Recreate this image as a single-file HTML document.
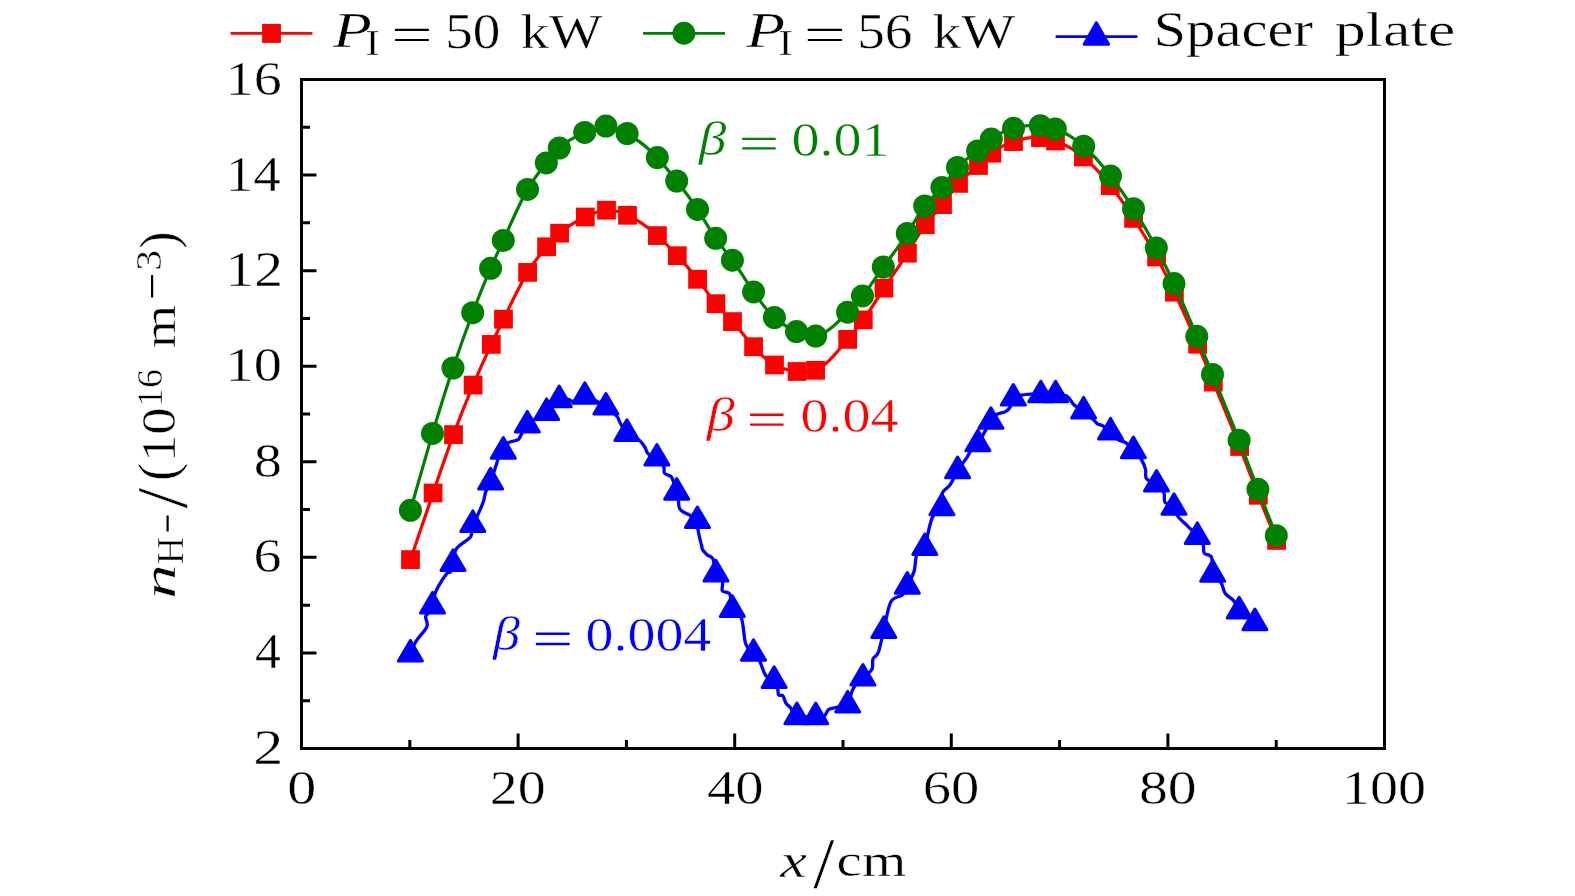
<!DOCTYPE html><html><head><meta charset="utf-8"><style>html,body{margin:0;padding:0;background:#fff;}svg{display:block;will-change:transform;}text{font-family:"Liberation Serif",serif;}</style></head><body>
<svg width="1575" height="896" viewBox="0 0 1575 896">
<rect width="1575" height="896" fill="#fff"/>
<path d="M409.8,748.5 V740 M518.1,748.5 V733.5 M626.4,748.5 V740 M734.7,748.5 V733.5 M843,748.5 V740 M951.3,748.5 V733.5 M1059.6,748.5 V740 M1167.9,748.5 V733.5 M1276.2,748.5 V740 M301.5,700.714 H310 M301.5,652.929 H316.5 M301.5,605.143 H310 M301.5,557.357 H316.5 M301.5,509.571 H310 M301.5,461.786 H316.5 M301.5,414 H310 M301.5,366.214 H316.5 M301.5,318.429 H310 M301.5,270.643 H316.5 M301.5,222.857 H310 M301.5,175.071 H316.5 M301.5,127.286 H310" stroke="#000" stroke-width="3.0" fill="none"/>
<rect x="301.5" y="79.5" width="1083" height="669" fill="none" stroke="#000" stroke-width="3.0"/>
<text transform="matrix(0.581,0,0,0.493,287.171,803.557)" font-size="100" fill="#000000" stroke="#fff" stroke-width="0.5" vector-effect="non-scaling-stroke">0</text>
<text transform="matrix(0.559,0,0,0.493,489.734,803.557)" font-size="100" fill="#000000" stroke="#fff" stroke-width="0.5" vector-effect="non-scaling-stroke">20</text>
<text transform="matrix(0.566,0,0,0.493,706.919,803.557)" font-size="100" fill="#000000" stroke="#fff" stroke-width="0.5" vector-effect="non-scaling-stroke">40</text>
<text transform="matrix(0.566,0,0,0.493,922.743,803.557)" font-size="100" fill="#000000" stroke="#fff" stroke-width="0.5" vector-effect="non-scaling-stroke">60</text>
<text transform="matrix(0.577,0,0,0.493,1138.885,803.557)" font-size="100" fill="#000000" stroke="#fff" stroke-width="0.5" vector-effect="non-scaling-stroke">80</text>
<text transform="matrix(0.561,0,0,0.493,1342.037,803.557)" font-size="100" fill="#000000" stroke="#fff" stroke-width="0.5" vector-effect="non-scaling-stroke">100</text>
<text transform="matrix(0.6,0,0,0.501,253.25,764.05)" font-size="100" fill="#000000" stroke="#fff" stroke-width="0.5" vector-effect="non-scaling-stroke">2</text>
<text transform="matrix(0.516,0,0,0.505,254.918,668.479)" font-size="100" fill="#000000" stroke="#fff" stroke-width="0.5" vector-effect="non-scaling-stroke">4</text>
<text transform="matrix(0.561,0,0,0.494,253.564,572.413)" font-size="100" fill="#000000" stroke="#fff" stroke-width="0.5" vector-effect="non-scaling-stroke">6</text>
<text transform="matrix(0.565,0,0,0.492,253.832,476.844)" font-size="100" fill="#000000" stroke="#fff" stroke-width="0.5" vector-effect="non-scaling-stroke">8</text>
<text transform="matrix(0.565,0,0,0.492,225.61,381.272)" font-size="100" fill="#000000" stroke="#fff" stroke-width="0.5" vector-effect="non-scaling-stroke">10</text>
<text transform="matrix(0.576,0,0,0.501,225.509,286.193)" font-size="100" fill="#000000" stroke="#fff" stroke-width="0.5" vector-effect="non-scaling-stroke">12</text>
<text transform="matrix(0.55,0,0,0.503,225.734,190.621)" font-size="100" fill="#000000" stroke="#fff" stroke-width="0.5" vector-effect="non-scaling-stroke">14</text>
<text transform="matrix(0.56,0,0,0.494,225.652,94.556)" font-size="100" fill="#000000" stroke="#fff" stroke-width="0.5" vector-effect="non-scaling-stroke">16</text>
<text transform="matrix(0.636,0,0,0.515,333.068,47.45)" font-size="100" font-style="italic" fill="#000000" stroke="#fff" stroke-width="0.5" vector-effect="non-scaling-stroke">P</text>
<text transform="matrix(0.442,0,0,0.365,365.203,55.15)" font-size="100" fill="#000000" stroke="#fff" stroke-width="0.5" vector-effect="non-scaling-stroke">I</text>
<text transform="matrix(0.552,0,0,0.498,445.173,48.052)" font-size="100" fill="#000000" stroke="#fff" stroke-width="0.5" vector-effect="non-scaling-stroke">50</text>
<text transform="matrix(0.566,0,0,0.49,520.818,47.815)" font-size="100" fill="#000000" stroke="#fff" stroke-width="0.5" vector-effect="non-scaling-stroke">kW</text>
<text transform="matrix(0.636,0,0,0.515,746.368,47.45)" font-size="100" font-style="italic" fill="#000000" stroke="#fff" stroke-width="0.5" vector-effect="non-scaling-stroke">P</text>
<text transform="matrix(0.442,0,0,0.365,778.303,55.15)" font-size="100" fill="#000000" stroke="#fff" stroke-width="0.5" vector-effect="non-scaling-stroke">I</text>
<text transform="matrix(0.553,0,0,0.5,857.168,48.05)" font-size="100" fill="#000000" stroke="#fff" stroke-width="0.5" vector-effect="non-scaling-stroke">56</text>
<text transform="matrix(0.572,0,0,0.49,932.607,47.815)" font-size="100" fill="#000000" stroke="#fff" stroke-width="0.5" vector-effect="non-scaling-stroke">kW</text>
<text transform="matrix(0.587,0,0,0.505,1153.389,45.816)" font-size="100" fill="#000000" stroke="#fff" stroke-width="0.5" vector-effect="non-scaling-stroke">Spacer</text>
<text transform="matrix(0.62,0,0,0.476,1334.719,46.434)" font-size="100" fill="#000000" stroke="#fff" stroke-width="0.5" vector-effect="non-scaling-stroke">plate</text>
<text transform="matrix(0.554,0,0,0.477,698.781,155.006)" font-size="100" font-style="italic" fill="#008000" stroke="#fff" stroke-width="0.5" vector-effect="non-scaling-stroke">β</text>
<text transform="matrix(0.561,0,0,0.491,791.446,156.113)" font-size="100" fill="#008000" stroke="#fff" stroke-width="0.5" vector-effect="non-scaling-stroke">0.01</text>
<text transform="matrix(0.562,0,0,0.475,706.693,431.152)" font-size="100" font-style="italic" fill="#ff0000" stroke="#fff" stroke-width="0.5" vector-effect="non-scaling-stroke">β</text>
<text transform="matrix(0.56,0,0,0.488,800.449,432.218)" font-size="100" fill="#ff0000" stroke="#fff" stroke-width="0.5" vector-effect="non-scaling-stroke">0.04</text>
<text transform="matrix(0.542,0,0,0.477,492.964,650.106)" font-size="100" font-style="italic" fill="#0000ff" stroke="#fff" stroke-width="0.5" vector-effect="non-scaling-stroke">β</text>
<text transform="matrix(0.559,0,0,0.487,585.554,651.12)" font-size="100" fill="#0000ff" stroke="#fff" stroke-width="0.5" vector-effect="non-scaling-stroke">0.004</text>
<text transform="matrix(0.598,0,0,0.487,780.297,876.65)" font-size="100" font-style="italic" fill="#000000" stroke="#fff" stroke-width="0.5" vector-effect="non-scaling-stroke">x</text>
<text transform="matrix(0.76,0,0,0.721,813.15,887.129)" font-size="100" fill="#000000" stroke="#fff" stroke-width="0.5" vector-effect="non-scaling-stroke">/</text>
<text transform="matrix(0.57,0,0,0.467,836.614,876.183)" font-size="100" fill="#000000" stroke="#fff" stroke-width="0.5" vector-effect="non-scaling-stroke">cm</text>
<text transform="matrix(0,-0.701,0.457,0,175.25,598.902)" font-size="100" font-style="italic" fill="#000000" stroke="#fff" stroke-width="0.5" vector-effect="non-scaling-stroke">n</text>
<text transform="matrix(0,-0.38,0.374,0,183.25,564.191)" font-size="100" fill="#000000" stroke="#fff" stroke-width="0.5" vector-effect="non-scaling-stroke">H</text>
<text transform="matrix(0,-0.75,0.718,0,186.132,508.55)" font-size="100" fill="#000000" stroke="#fff" stroke-width="0.5" vector-effect="non-scaling-stroke">/</text>
<text transform="matrix(0,-0.545,0.548,0,175.704,481.103)" font-size="100" fill="#000000" stroke="#fff" stroke-width="0.5" vector-effect="non-scaling-stroke">(</text>
<text transform="matrix(0,-0.547,0.483,0,175.267,462.04)" font-size="100" fill="#000000" stroke="#fff" stroke-width="0.5" vector-effect="non-scaling-stroke">10</text>
<text transform="matrix(0,-0.38,0.366,0,161.984,406.972)" font-size="100" fill="#000000" stroke="#fff" stroke-width="0.5" vector-effect="non-scaling-stroke">16</text>
<text transform="matrix(0,-0.559,0.457,0,175.25,348.368)" font-size="100" fill="#000000" stroke="#fff" stroke-width="0.5" vector-effect="non-scaling-stroke">m</text>
<text transform="matrix(0,-0.417,0.352,0,161.098,270.831)" font-size="100" fill="#000000" stroke="#fff" stroke-width="0.5" vector-effect="non-scaling-stroke">3</text>
<text transform="matrix(0,-0.517,0.531,0,175.556,248.729)" font-size="100" fill="#000000" stroke="#fff" stroke-width="0.5" vector-effect="non-scaling-stroke">)</text>
<rect x="395" y="28.7" width="33.9" height="2.4" rx="0.6" fill="#000000"/>
<rect x="395" y="38.9" width="33.9" height="2.2" rx="0.6" fill="#000000"/>
<rect x="807.8" y="28.7" width="34.2" height="2.4" rx="0.6" fill="#000000"/>
<rect x="807.8" y="38.9" width="34.2" height="2.2" rx="0.6" fill="#000000"/>
<rect x="742.2" y="137.7" width="33.5" height="2.4" rx="0.6" fill="#008000"/>
<rect x="742.2" y="147.2" width="33.5" height="2.4" rx="0.6" fill="#008000"/>
<rect x="750" y="413.5" width="33.6" height="2.4" rx="0.6" fill="#ff0000"/>
<rect x="750" y="423.4" width="33.6" height="2.4" rx="0.6" fill="#ff0000"/>
<rect x="535.9" y="632.5" width="33.8" height="2.4" rx="0.6" fill="#0000ff"/>
<rect x="535.9" y="642.8" width="33.8" height="2.4" rx="0.6" fill="#0000ff"/>
<rect x="166.5" y="515.6" width="2.2" height="16" rx="0.6" fill="#000000"/>
<rect x="151" y="275.1" width="2.2" height="22.5" rx="0.6" fill="#000000"/>
<path d="M410.4,653.7 C411.3,651.683 413.067,646.067 415.8,641.6 C418.533,637.133 425.167,631 426.8,626.9 C428.433,622.8 425.4,619.25 425.6,617 C425.8,614.75 426.85,615.283 428,613.4 C429.15,611.517 431.267,609.183 432.5,605.7 C433.733,602.217 433.083,597.767 435.4,592.5 C437.717,587.233 443.833,577.567 446.4,574.1 C448.967,570.633 449.7,573.517 450.8,571.7 C451.9,569.883 452.083,567 453,563.2 C453.917,559.4 453.8,552.883 456.3,548.9 C458.8,544.917 465.517,541.517 468,539.3 C470.483,537.083 470.4,538.117 471.2,535.6 C472,533.083 471.817,527.4 472.8,524.2 C473.783,521 475.35,520.15 477.1,516.4 C478.85,512.65 481.867,505.783 483.3,501.7 C484.733,497.617 484.483,495.25 485.7,491.9 C486.917,488.55 488.917,485.875 490.6,481.6 C492.283,477.325 494.683,469.583 495.8,466.25 C496.917,462.917 496.917,462.775 497.3,461.6 C497.683,460.425 497.1,460.983 498.1,459.2 C499.1,457.417 501.733,453.558 503.3,450.9 C504.867,448.242 505.15,445.083 507.5,443.25 C509.85,441.417 515.317,440.942 517.4,439.9 C519.483,438.858 518.35,439.533 520,437 C521.65,434.467 522.867,428.833 527.3,424.7 C531.733,420.567 541.283,416.417 546.6,412.2 C551.917,407.983 555.567,401.517 559.2,399.4 C562.833,397.283 565.95,399.167 568.4,399.5 C570.85,399.833 571.167,401.983 573.9,401.4 C576.633,400.817 579.467,395.108 584.8,396 C590.133,396.892 600.55,403.375 605.9,406.75 C611.25,410.125 614.55,413.625 616.9,416.25 C619.25,418.875 618.333,419.692 620,422.5 C621.667,425.308 623.65,430.1 626.9,433.1 C630.15,436.1 636.483,438.1 639.5,440.5 C642.517,442.9 643.567,445.292 645,447.5 C646.433,449.708 646.117,452.033 648.1,453.75 C650.083,455.467 654.317,455.692 656.9,457.8 C659.483,459.908 662.35,463.867 663.6,466.4 C664.85,468.933 663.5,471.483 664.4,473 C665.3,474.517 667.733,474.667 669,475.5 C670.267,476.333 670.717,475.267 672,478 C673.283,480.733 675.633,488.1 676.7,491.9 C677.767,495.7 677.983,498.2 678.4,500.8 C678.817,503.4 678.55,505.733 679.2,507.5 C679.85,509.267 680.467,510.1 682.3,511.4 C684.133,512.7 687.683,513.817 690.2,515.3 C692.717,516.783 696.1,517.95 697.4,520.3 C698.7,522.65 697.65,526.583 698,529.4 C698.35,532.217 698.917,534.6 699.5,537.2 C700.083,539.8 700.983,542.917 701.5,545 C702.017,547.083 701.633,548.033 702.6,549.7 C703.567,551.367 705.567,553.45 707.3,555 C709.033,556.55 711.558,555.9 713,559 C714.442,562.1 714.383,569.8 715.95,573.6 C717.517,577.4 721.325,578.917 722.4,581.8 C723.475,584.683 721.167,588.85 722.4,590.9 C723.633,592.95 728.15,591.067 729.8,594.1 C731.45,597.133 730.35,605.033 732.3,609.1 C734.25,613.167 739.267,612.7 741.5,618.5 C743.733,624.3 743.7,638.15 745.7,643.9 C747.7,649.65 751.2,650.167 753.5,653 C755.8,655.833 757.433,657.117 759.5,660.9 C761.567,664.683 763.467,672.5 765.9,675.7 C768.333,678.9 772.15,677.967 774.1,680.1 C776.05,682.233 776.85,686.05 777.6,688.5 C778.35,690.95 777.717,693.567 778.6,694.8 C779.483,696.033 781.667,694.483 782.9,695.9 C784.133,697.317 784.767,701.367 786,703.3 C787.233,705.233 788.483,705.317 790.3,707.5 C792.117,709.683 792.667,714.917 796.9,716.4 C801.133,717.883 811.15,716.467 815.7,716.4 C820.25,716.333 822.067,717.117 824.2,716 C826.333,714.883 826.55,711.117 828.5,709.7 C830.45,708.283 832.7,708.333 835.9,707.5 C839.1,706.667 845.05,707.35 847.7,704.7 C850.35,702.05 850.417,695.017 851.8,691.6 C853.183,688.183 854.15,686.5 856,684.2 C857.85,681.9 860.25,680.267 862.9,677.8 C865.55,675.333 870.217,672.567 871.9,669.4 C873.583,666.233 871.933,661.633 873,658.8 C874.067,655.967 876.5,657.167 878.3,652.4 C880.1,647.633 881.717,638.6 883.8,630.2 C885.883,621.8 887.7,607.9 890.8,602 C893.9,596.1 899.65,597.483 902.4,594.8 C905.15,592.117 905.367,589.767 907.3,585.9 C909.233,582.033 912.4,576.883 914,571.6 C915.6,566.317 915.1,558.25 916.9,554.2 C918.7,550.15 922.867,551.167 924.8,547.3 C926.733,543.433 927.15,536.15 928.5,531 C929.85,525.85 930.667,520.333 932.9,516.4 C935.133,512.467 940.35,511.267 941.9,507.4 C943.45,503.533 940.8,497.017 942.2,493.2 C943.6,489.383 947.733,488.3 950.3,484.5 C952.867,480.7 954.933,474.75 957.6,470.4 C960.267,466.05 964.133,461.617 966.3,458.4 C968.467,455.183 968.667,453.583 970.6,451.1 C972.533,448.617 974.517,448.517 977.9,443.5 C981.283,438.483 987.833,425.8 990.9,421 C993.967,416.2 993.85,416.267 996.3,414.7 C998.75,413.133 1003.267,412.9 1005.6,411.6 C1007.933,410.3 1009.017,409.2 1010.3,406.9 C1011.583,404.6 1011.467,399.75 1013.3,397.8 C1015.133,395.85 1018.417,395.817 1021.3,395.2 C1024.183,394.583 1027.35,394.217 1030.6,394.1 C1033.85,393.983 1036.633,394.433 1040.8,394.5 C1044.967,394.567 1051.3,394.267 1055.6,394.5 C1059.9,394.733 1063.467,394.1 1066.6,395.9 C1069.733,397.7 1071.567,402.833 1074.4,405.3 C1077.233,407.767 1080.483,408.35 1083.6,410.7 C1086.717,413.05 1090.733,417.167 1093.1,419.4 C1095.467,421.633 1096.233,423.067 1097.8,424.1 C1099.367,425.133 1100.383,424.333 1102.5,425.6 C1104.617,426.867 1107.9,429.35 1110.5,431.7 C1113.1,434.05 1115.517,437.85 1118.1,439.7 C1120.683,441.55 1123.45,441.017 1126,442.8 C1128.55,444.583 1130.8,447.533 1133.4,450.4 C1136,453.267 1139.583,456.833 1141.6,460 C1143.617,463.167 1144.683,466.267 1145.5,469.4 C1146.317,472.533 1144.667,476.4 1146.5,478.8 C1148.333,481.2 1153.6,481.467 1156.5,483.8 C1159.4,486.133 1162.483,489.7 1163.9,492.8 C1165.317,495.9 1163.317,500.033 1165,502.4 C1166.683,504.767 1171.883,504.717 1174,507 C1176.117,509.283 1175.5,512.983 1177.7,516.1 C1179.9,519.217 1184.55,523.05 1187.2,525.7 C1189.85,528.35 1191.917,530.25 1193.6,532 C1195.283,533.75 1195.717,534.083 1197.3,536.2 C1198.883,538.317 1201.95,541.867 1203.1,544.7 C1204.25,547.533 1202.783,551.067 1204.2,553.2 C1205.617,555.333 1210.183,554.05 1211.6,557.5 C1213.017,560.95 1211.117,569.667 1212.7,573.9 C1214.283,578.133 1219,579.633 1221.1,582.9 C1223.2,586.167 1223.183,590.5 1225.3,593.5 C1227.417,596.5 1231.483,598.05 1233.8,600.9 C1236.117,603.75 1235.683,607.017 1239.2,610.6 C1242.717,614.183 1252.283,620.433 1254.9,622.4" fill="none" stroke="#0000ff" stroke-width="3.3" stroke-linejoin="round" stroke-linecap="round"/>
<path d="M410.4,640.4 L422.4,661 L398.4,661 Z" fill="#0000ff" stroke="#0000ff" stroke-width="3.0" stroke-linejoin="round"/>
<path d="M432.5,592.4 L444.5,613 L420.5,613 Z" fill="#0000ff" stroke="#0000ff" stroke-width="3.0" stroke-linejoin="round"/>
<path d="M453,549.9 L465,570.5 L441,570.5 Z" fill="#0000ff" stroke="#0000ff" stroke-width="3.0" stroke-linejoin="round"/>
<path d="M472.8,510.9 L484.8,531.5 L460.8,531.5 Z" fill="#0000ff" stroke="#0000ff" stroke-width="3.0" stroke-linejoin="round"/>
<path d="M490.6,468.3 L502.6,488.9 L478.6,488.9 Z" fill="#0000ff" stroke="#0000ff" stroke-width="3.0" stroke-linejoin="round"/>
<path d="M503.3,437.6 L515.3,458.2 L491.3,458.2 Z" fill="#0000ff" stroke="#0000ff" stroke-width="3.0" stroke-linejoin="round"/>
<path d="M527.3,411.4 L539.3,432 L515.3,432 Z" fill="#0000ff" stroke="#0000ff" stroke-width="3.0" stroke-linejoin="round"/>
<path d="M546.6,398.9 L558.6,419.5 L534.6,419.5 Z" fill="#0000ff" stroke="#0000ff" stroke-width="3.0" stroke-linejoin="round"/>
<path d="M559.2,386.1 L571.2,406.7 L547.2,406.7 Z" fill="#0000ff" stroke="#0000ff" stroke-width="3.0" stroke-linejoin="round"/>
<path d="M584.8,382.7 L596.8,403.3 L572.8,403.3 Z" fill="#0000ff" stroke="#0000ff" stroke-width="3.0" stroke-linejoin="round"/>
<path d="M605.9,393.45 L617.9,414.05 L593.9,414.05 Z" fill="#0000ff" stroke="#0000ff" stroke-width="3.0" stroke-linejoin="round"/>
<path d="M626.9,419.8 L638.9,440.4 L614.9,440.4 Z" fill="#0000ff" stroke="#0000ff" stroke-width="3.0" stroke-linejoin="round"/>
<path d="M656.9,444.5 L668.9,465.1 L644.9,465.1 Z" fill="#0000ff" stroke="#0000ff" stroke-width="3.0" stroke-linejoin="round"/>
<path d="M676.7,478.6 L688.7,499.2 L664.7,499.2 Z" fill="#0000ff" stroke="#0000ff" stroke-width="3.0" stroke-linejoin="round"/>
<path d="M697.4,507 L709.4,527.6 L685.4,527.6 Z" fill="#0000ff" stroke="#0000ff" stroke-width="3.0" stroke-linejoin="round"/>
<path d="M715.95,560.3 L727.95,580.9 L703.95,580.9 Z" fill="#0000ff" stroke="#0000ff" stroke-width="3.0" stroke-linejoin="round"/>
<path d="M732.3,595.8 L744.3,616.4 L720.3,616.4 Z" fill="#0000ff" stroke="#0000ff" stroke-width="3.0" stroke-linejoin="round"/>
<path d="M753.5,639.7 L765.5,660.3 L741.5,660.3 Z" fill="#0000ff" stroke="#0000ff" stroke-width="3.0" stroke-linejoin="round"/>
<path d="M774.1,666.8 L786.1,687.4 L762.1,687.4 Z" fill="#0000ff" stroke="#0000ff" stroke-width="3.0" stroke-linejoin="round"/>
<path d="M796.9,703.1 L808.9,723.7 L784.9,723.7 Z" fill="#0000ff" stroke="#0000ff" stroke-width="3.0" stroke-linejoin="round"/>
<path d="M815.7,703.1 L827.7,723.7 L803.7,723.7 Z" fill="#0000ff" stroke="#0000ff" stroke-width="3.0" stroke-linejoin="round"/>
<path d="M847.7,691.4 L859.7,712 L835.7,712 Z" fill="#0000ff" stroke="#0000ff" stroke-width="3.0" stroke-linejoin="round"/>
<path d="M862.9,664.5 L874.9,685.1 L850.9,685.1 Z" fill="#0000ff" stroke="#0000ff" stroke-width="3.0" stroke-linejoin="round"/>
<path d="M883.8,616.9 L895.8,637.5 L871.8,637.5 Z" fill="#0000ff" stroke="#0000ff" stroke-width="3.0" stroke-linejoin="round"/>
<path d="M907.3,572.6 L919.3,593.2 L895.3,593.2 Z" fill="#0000ff" stroke="#0000ff" stroke-width="3.0" stroke-linejoin="round"/>
<path d="M924.8,534 L936.8,554.6 L912.8,554.6 Z" fill="#0000ff" stroke="#0000ff" stroke-width="3.0" stroke-linejoin="round"/>
<path d="M941.9,494.1 L953.9,514.7 L929.9,514.7 Z" fill="#0000ff" stroke="#0000ff" stroke-width="3.0" stroke-linejoin="round"/>
<path d="M957.6,457.1 L969.6,477.7 L945.6,477.7 Z" fill="#0000ff" stroke="#0000ff" stroke-width="3.0" stroke-linejoin="round"/>
<path d="M977.9,430.2 L989.9,450.8 L965.9,450.8 Z" fill="#0000ff" stroke="#0000ff" stroke-width="3.0" stroke-linejoin="round"/>
<path d="M990.9,407.7 L1002.9,428.3 L978.9,428.3 Z" fill="#0000ff" stroke="#0000ff" stroke-width="3.0" stroke-linejoin="round"/>
<path d="M1013.3,384.5 L1025.3,405.1 L1001.3,405.1 Z" fill="#0000ff" stroke="#0000ff" stroke-width="3.0" stroke-linejoin="round"/>
<path d="M1040.8,381.2 L1052.8,401.8 L1028.8,401.8 Z" fill="#0000ff" stroke="#0000ff" stroke-width="3.0" stroke-linejoin="round"/>
<path d="M1055.6,381.2 L1067.6,401.8 L1043.6,401.8 Z" fill="#0000ff" stroke="#0000ff" stroke-width="3.0" stroke-linejoin="round"/>
<path d="M1083.6,397.4 L1095.6,418 L1071.6,418 Z" fill="#0000ff" stroke="#0000ff" stroke-width="3.0" stroke-linejoin="round"/>
<path d="M1110.5,418.4 L1122.5,439 L1098.5,439 Z" fill="#0000ff" stroke="#0000ff" stroke-width="3.0" stroke-linejoin="round"/>
<path d="M1133.4,437.1 L1145.4,457.7 L1121.4,457.7 Z" fill="#0000ff" stroke="#0000ff" stroke-width="3.0" stroke-linejoin="round"/>
<path d="M1156.5,470.5 L1168.5,491.1 L1144.5,491.1 Z" fill="#0000ff" stroke="#0000ff" stroke-width="3.0" stroke-linejoin="round"/>
<path d="M1174,493.7 L1186,514.3 L1162,514.3 Z" fill="#0000ff" stroke="#0000ff" stroke-width="3.0" stroke-linejoin="round"/>
<path d="M1197.3,522.9 L1209.3,543.5 L1185.3,543.5 Z" fill="#0000ff" stroke="#0000ff" stroke-width="3.0" stroke-linejoin="round"/>
<path d="M1212.7,560.6 L1224.7,581.2 L1200.7,581.2 Z" fill="#0000ff" stroke="#0000ff" stroke-width="3.0" stroke-linejoin="round"/>
<path d="M1239.2,597.3 L1251.2,617.9 L1227.2,617.9 Z" fill="#0000ff" stroke="#0000ff" stroke-width="3.0" stroke-linejoin="round"/>
<path d="M1254.9,609.1 L1266.9,629.7 L1242.9,629.7 Z" fill="#0000ff" stroke="#0000ff" stroke-width="3.0" stroke-linejoin="round"/>
<path d="M410.5,559.6 C418.033,537.379 425.567,515.159 433.1,493 C439.9,472.999 446.7,453.048 453.5,434.6 C460.033,416.876 466.567,400.539 473.1,385.1 C479.167,370.764 485.233,357.202 491.3,344.4 C495.367,335.819 499.433,327.579 503.5,319.2 C511.533,302.648 519.567,285.554 527.6,272.4 C533.933,262.029 540.267,254.108 546.6,246.8 C550.933,241.8 555.267,237.088 559.6,233.2 C568.167,225.515 576.733,221.053 585.3,217 C592.367,213.657 599.433,210.592 606.5,210.2 C613.5,209.812 620.5,212.046 627.5,215.3 C637.467,219.933 647.433,226.631 657.4,235.6 C664.033,241.569 670.667,248.544 677.3,255.7 C684.067,263 690.833,270.49 697.6,279.3 C703.733,287.286 709.867,296.357 716,303.7 C721.5,310.285 727,315.481 732.5,321.6 C739.533,329.425 746.567,338.761 753.6,346.7 C760.567,354.563 767.533,361.056 774.5,365 C782.033,369.265 789.567,370.551 797.1,371.5 C803.267,372.277 809.433,372.829 815.6,370.3 C826.3,365.911 837,352.245 847.7,339.4 C852.9,333.157 858.1,327.108 863.3,319.9 C870.2,310.335 877.1,298.728 884,288.2 C891.8,276.299 899.6,265.776 907.4,253.2 C913.367,243.58 919.333,232.759 925.3,224.7 C931.033,216.956 936.767,211.762 942.5,204.6 C947.833,197.937 953.167,189.571 958.5,183.4 C965.167,175.686 971.833,171.403 978.5,165.5 C982.967,161.545 987.433,156.864 991.9,153.2 C999.1,147.294 1006.3,144.033 1013.5,141.6 C1022.5,138.559 1031.5,136.814 1040.5,137.6 C1045.5,138.037 1050.5,139.254 1055.5,141 C1064.8,144.247 1074.1,149.321 1083.4,157 C1092.367,164.403 1101.333,174.228 1110.3,185.6 C1118.067,195.45 1125.833,206.461 1133.6,218.4 C1141.267,230.185 1148.933,242.873 1156.6,257 C1162.533,267.933 1168.467,279.727 1174.4,292.2 C1182.133,308.456 1189.867,325.865 1197.6,344.2 C1202.833,356.608 1208.067,369.441 1213.3,382.1 C1222.067,403.306 1230.833,424.027 1239.6,446.5 C1245.833,462.479 1252.067,479.344 1258.3,495.3 C1264.4,510.914 1270.5,525.657 1276.6,540.4" fill="none" stroke="#ff0000" stroke-width="3.2"/>
<rect x="401.125" y="550.225" width="18.75" height="18.75" fill="#ff0000"/>
<rect x="423.725" y="483.625" width="18.75" height="18.75" fill="#ff0000"/>
<rect x="444.125" y="425.225" width="18.75" height="18.75" fill="#ff0000"/>
<rect x="463.725" y="375.725" width="18.75" height="18.75" fill="#ff0000"/>
<rect x="481.925" y="335.025" width="18.75" height="18.75" fill="#ff0000"/>
<rect x="494.125" y="309.825" width="18.75" height="18.75" fill="#ff0000"/>
<rect x="518.225" y="263.025" width="18.75" height="18.75" fill="#ff0000"/>
<rect x="537.225" y="237.425" width="18.75" height="18.75" fill="#ff0000"/>
<rect x="550.225" y="223.825" width="18.75" height="18.75" fill="#ff0000"/>
<rect x="575.925" y="207.625" width="18.75" height="18.75" fill="#ff0000"/>
<rect x="597.125" y="200.825" width="18.75" height="18.75" fill="#ff0000"/>
<rect x="618.125" y="205.925" width="18.75" height="18.75" fill="#ff0000"/>
<rect x="648.025" y="226.225" width="18.75" height="18.75" fill="#ff0000"/>
<rect x="667.925" y="246.325" width="18.75" height="18.75" fill="#ff0000"/>
<rect x="688.225" y="269.925" width="18.75" height="18.75" fill="#ff0000"/>
<rect x="706.625" y="294.325" width="18.75" height="18.75" fill="#ff0000"/>
<rect x="723.125" y="312.225" width="18.75" height="18.75" fill="#ff0000"/>
<rect x="744.225" y="337.325" width="18.75" height="18.75" fill="#ff0000"/>
<rect x="765.125" y="355.625" width="18.75" height="18.75" fill="#ff0000"/>
<rect x="787.725" y="362.125" width="18.75" height="18.75" fill="#ff0000"/>
<rect x="806.225" y="360.925" width="18.75" height="18.75" fill="#ff0000"/>
<rect x="838.325" y="330.025" width="18.75" height="18.75" fill="#ff0000"/>
<rect x="853.925" y="310.525" width="18.75" height="18.75" fill="#ff0000"/>
<rect x="874.625" y="278.825" width="18.75" height="18.75" fill="#ff0000"/>
<rect x="898.025" y="243.825" width="18.75" height="18.75" fill="#ff0000"/>
<rect x="915.925" y="215.325" width="18.75" height="18.75" fill="#ff0000"/>
<rect x="933.125" y="195.225" width="18.75" height="18.75" fill="#ff0000"/>
<rect x="949.125" y="174.025" width="18.75" height="18.75" fill="#ff0000"/>
<rect x="969.125" y="156.125" width="18.75" height="18.75" fill="#ff0000"/>
<rect x="982.525" y="143.825" width="18.75" height="18.75" fill="#ff0000"/>
<rect x="1004.125" y="132.225" width="18.75" height="18.75" fill="#ff0000"/>
<rect x="1031.125" y="128.225" width="18.75" height="18.75" fill="#ff0000"/>
<rect x="1046.125" y="131.625" width="18.75" height="18.75" fill="#ff0000"/>
<rect x="1074.025" y="147.625" width="18.75" height="18.75" fill="#ff0000"/>
<rect x="1100.925" y="176.225" width="18.75" height="18.75" fill="#ff0000"/>
<rect x="1124.225" y="209.025" width="18.75" height="18.75" fill="#ff0000"/>
<rect x="1147.225" y="247.625" width="18.75" height="18.75" fill="#ff0000"/>
<rect x="1165.025" y="282.825" width="18.75" height="18.75" fill="#ff0000"/>
<rect x="1188.225" y="334.825" width="18.75" height="18.75" fill="#ff0000"/>
<rect x="1203.925" y="372.725" width="18.75" height="18.75" fill="#ff0000"/>
<rect x="1230.225" y="437.125" width="18.75" height="18.75" fill="#ff0000"/>
<rect x="1248.925" y="485.925" width="18.75" height="18.75" fill="#ff0000"/>
<rect x="1267.225" y="531.025" width="18.75" height="18.75" fill="#ff0000"/>
<path d="M410.4,510.3 C417.767,484.252 425.133,458.205 432.5,433.4 C439.333,410.391 446.167,388.452 453,368 C459.567,348.346 466.133,330.065 472.7,312.7 C478.667,296.921 484.633,281.898 490.6,268.3 C494.833,258.652 499.067,249.722 503.3,240.4 C511.367,222.637 519.433,203.45 527.5,189.4 C533.767,178.485 540.033,170.67 546.3,162.9 C550.633,157.527 554.967,152.177 559.3,148 C567.767,139.839 576.233,136.161 584.7,132.4 C591.767,129.261 598.833,126.064 605.9,126.1 C612.967,126.136 620.033,129.404 627.1,133.5 C637.167,139.334 647.233,146.848 657.3,157.6 C663.767,164.507 670.233,172.751 676.7,181 C683.633,189.844 690.567,198.694 697.5,209.4 C703.567,218.768 709.633,229.557 715.7,238.3 C721.267,246.323 726.833,252.623 732.4,260.2 C739.467,269.819 746.533,281.496 753.6,291.9 C760.533,302.108 767.467,311.089 774.4,317.5 C781.767,324.311 789.133,328.22 796.5,331.6 C802.9,334.537 809.3,337.075 815.7,336.1 C826.333,334.48 836.967,323.162 847.6,312.2 C852.567,307.08 857.533,302.037 862.5,295.9 C869.433,287.333 876.367,276.634 883.3,267 C891.3,255.884 899.3,246.186 907.3,233.5 C913.1,224.303 918.9,213.536 924.7,206 C930.433,198.551 936.167,194.259 941.9,187.5 C947.1,181.37 952.3,173.209 957.5,167.4 C964.2,159.915 970.9,156.332 977.6,150.9 C982.167,147.197 986.733,142.635 991.3,139.1 C998.7,133.371 1006.1,130.339 1013.5,128.3 C1022.433,125.839 1031.367,124.825 1040.3,125.7 C1045.3,126.19 1050.3,127.271 1055.3,129 C1064.767,132.274 1074.233,137.873 1083.7,146.2 C1092.633,154.058 1101.567,164.346 1110.5,175.9 C1118.167,185.816 1125.833,196.664 1133.5,208.7 C1141.1,220.631 1148.7,233.729 1156.3,248 C1162.2,259.079 1168.1,270.864 1174,283.6 C1181.6,300.006 1189.2,317.988 1196.8,336.3 C1202.033,348.91 1207.267,361.675 1212.5,374.4 C1221.367,395.959 1230.233,417.4 1239.1,440.2 C1245.367,456.314 1251.633,473.106 1257.9,489.3 C1264.033,505.149 1270.167,520.425 1276.3,535.7" fill="none" stroke="#008000" stroke-width="3.2"/>
<circle cx="410.4" cy="510.3" r="11.5" fill="#008000"/>
<circle cx="432.5" cy="433.4" r="11.5" fill="#008000"/>
<circle cx="453" cy="368" r="11.5" fill="#008000"/>
<circle cx="472.7" cy="312.7" r="11.5" fill="#008000"/>
<circle cx="490.6" cy="268.3" r="11.5" fill="#008000"/>
<circle cx="503.3" cy="240.4" r="11.5" fill="#008000"/>
<circle cx="527.5" cy="189.4" r="11.5" fill="#008000"/>
<circle cx="546.3" cy="162.9" r="11.5" fill="#008000"/>
<circle cx="559.3" cy="148" r="11.5" fill="#008000"/>
<circle cx="584.7" cy="132.4" r="11.5" fill="#008000"/>
<circle cx="605.9" cy="126.1" r="11.5" fill="#008000"/>
<circle cx="627.1" cy="133.5" r="11.5" fill="#008000"/>
<circle cx="657.3" cy="157.6" r="11.5" fill="#008000"/>
<circle cx="676.7" cy="181" r="11.5" fill="#008000"/>
<circle cx="697.5" cy="209.4" r="11.5" fill="#008000"/>
<circle cx="715.7" cy="238.3" r="11.5" fill="#008000"/>
<circle cx="732.4" cy="260.2" r="11.5" fill="#008000"/>
<circle cx="753.6" cy="291.9" r="11.5" fill="#008000"/>
<circle cx="774.4" cy="317.5" r="11.5" fill="#008000"/>
<circle cx="796.5" cy="331.6" r="11.5" fill="#008000"/>
<circle cx="815.7" cy="336.1" r="11.5" fill="#008000"/>
<circle cx="847.6" cy="312.2" r="11.5" fill="#008000"/>
<circle cx="862.5" cy="295.9" r="11.5" fill="#008000"/>
<circle cx="883.3" cy="267" r="11.5" fill="#008000"/>
<circle cx="907.3" cy="233.5" r="11.5" fill="#008000"/>
<circle cx="924.7" cy="206" r="11.5" fill="#008000"/>
<circle cx="941.9" cy="187.5" r="11.5" fill="#008000"/>
<circle cx="957.5" cy="167.4" r="11.5" fill="#008000"/>
<circle cx="977.6" cy="150.9" r="11.5" fill="#008000"/>
<circle cx="991.3" cy="139.1" r="11.5" fill="#008000"/>
<circle cx="1013.5" cy="128.3" r="11.5" fill="#008000"/>
<circle cx="1040.3" cy="125.7" r="11.5" fill="#008000"/>
<circle cx="1055.3" cy="129" r="11.5" fill="#008000"/>
<circle cx="1083.7" cy="146.2" r="11.5" fill="#008000"/>
<circle cx="1110.5" cy="175.9" r="11.5" fill="#008000"/>
<circle cx="1133.5" cy="208.7" r="11.5" fill="#008000"/>
<circle cx="1156.3" cy="248" r="11.5" fill="#008000"/>
<circle cx="1174" cy="283.6" r="11.5" fill="#008000"/>
<circle cx="1196.8" cy="336.3" r="11.5" fill="#008000"/>
<circle cx="1212.5" cy="374.4" r="11.5" fill="#008000"/>
<circle cx="1239.1" cy="440.2" r="11.5" fill="#008000"/>
<circle cx="1257.9" cy="489.3" r="11.5" fill="#008000"/>
<circle cx="1276.3" cy="535.7" r="11.5" fill="#008000"/>
<path d="M230.6,33.4 H312.4" stroke="#ff0000" stroke-width="2.8"/>
<rect x="262.1" y="23.9" width="18.8" height="19" fill="#ff0000"/>
<path d="M643.1,33.4 H725" stroke="#008000" stroke-width="2.8"/>
<circle cx="683.9" cy="33.25" r="11.4" fill="#008000"/>
<path d="M1055.6,36.6 H1137.4" stroke="#0000ff" stroke-width="2.8"/>
<path d="M1096.35,22.8 L1108.5,44.3 L1084.2,44.3 Z" fill="#0000ff" stroke="#0000ff" stroke-width="3.0" stroke-linejoin="round"/>
</svg></body></html>
